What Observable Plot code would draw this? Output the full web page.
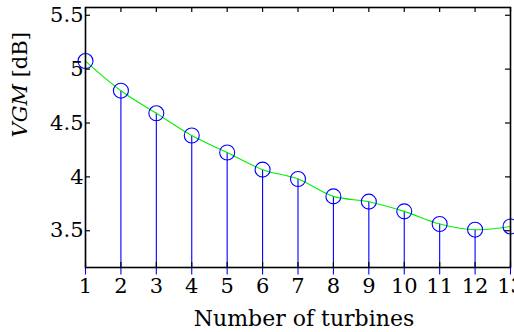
<!DOCTYPE html>
<html>
<head>
<meta charset="utf-8">
<script src="https://cdn.jsdelivr.net/npm/d3@7"></script>
<script src="https://cdn.jsdelivr.net/npm/@observablehq/plot@0.6"></script>
<style>
  html, body { margin: 0; padding: 0; background: #fff; }
  #chart { width: 514px; height: 332px; overflow: hidden; }
</style>
</head>
<body>
<div id="chart"></div>
<script>
const turbines = [1, 2, 3, 4, 5, 6, 7, 8, 9, 10, 11, 12, 13];
const vgm = [5.075, 4.80, 4.59, 4.384, 4.226, 4.067, 3.98, 3.819, 3.77, 3.68, 3.563, 3.51, 3.54];
const xTicks = [1, 2, 3, 4, 5, 6, 7, 8, 9, 10, 11, 12, 13];
const yTicks = [3.5, 4, 4.5, 5, 5.5];
const yDomain = [3.159, 5.572];
const xLabel = "Number of turbines";
const yLabelItalic = "VGM";
const yLabelRest = " [dB]";

const data = turbines.map((t, i) => ({t, v: vgm[i]}));

const W = 514, H = 332;
const mL = 85, mR = 4, mT = 7, mB = 65;
const innerW = W - mL - mR, innerH = H - mT - mB;
const font = "DejaVu Serif";
const fs = 21;

const chart = Plot.plot({
  width: W,
  height: H,
  marginLeft: mL,
  marginRight: mR,
  marginTop: mT,
  marginBottom: mB,
  style: {fontFamily: font, fontSize: fs + "px", color: "#000", background: "#fff", overflow: "hidden"},
  x: {domain: [1, 13]},
  y: {domain: yDomain},
  marks: [
    // stems
    Plot.ruleX(data, {x: "t", y1: yDomain[0], y2: "v", stroke: "#0000ff", strokeWidth: 1.1, insetTop: 7.5}),
    // smooth green curve
    Plot.line(data, {x: "t", y: "v", stroke: "#00f000", strokeWidth: 1.1, curve: "catmull-rom"}),
    // circle markers
    Plot.dot(data, {x: "t", y: "v", r: 7.5, stroke: "#0000ff", strokeWidth: 1.1, fill: "none"}),
    // inward ticks: bottom, top
    Plot.tickX(xTicks, {x: d => d, insetTop: innerH - 5, stroke: "#000", strokeWidth: 1.2}),
    Plot.tickX(xTicks, {x: d => d, insetBottom: innerH - 5, stroke: "#000", strokeWidth: 1.2}),
    // inward ticks: left, right
    Plot.tickY(yTicks, {y: d => d, insetRight: innerW - 5, stroke: "#000", strokeWidth: 1.2}),
    Plot.tickY(yTicks, {y: d => d, insetLeft: innerW - 5, stroke: "#000", strokeWidth: 1.2}),
    // tick labels
    Plot.axisX(xTicks, {anchor: "bottom", tickSize: 0, tickPadding: 11, label: null, fontSize: fs, fill: "#000"}),
    Plot.axisY(yTicks, {anchor: "left", tickSize: 0, tickPadding: 2, label: null, fontSize: fs, fill: "#000", tickFormat: d => String(d)}),
    // frame
    Plot.frame({stroke: "#000", strokeWidth: 1.6}),
    // axis labels
    Plot.text([xLabel], {frameAnchor: "bottom", dy: 58, dx: 6, fontSize: 22, fill: "#000"}),
    Plot.text([yLabelItalic + yLabelRest], {frameAnchor: "left", dx: -65, rotate: -90, fontSize: fs, fill: "#000", className: "ylab"})
  ]
});

// style the y label with italic VGM as tspans
d3.select(chart).selectAll("g.ylab text").each(function() {
  const t = d3.select(this);
  t.text(null);
  t.append("tspan").attr("font-style", "italic").text(yLabelItalic);
  t.append("tspan").text(yLabelRest);
});

document.getElementById("chart").appendChild(chart);
</script>
</body>
</html>
